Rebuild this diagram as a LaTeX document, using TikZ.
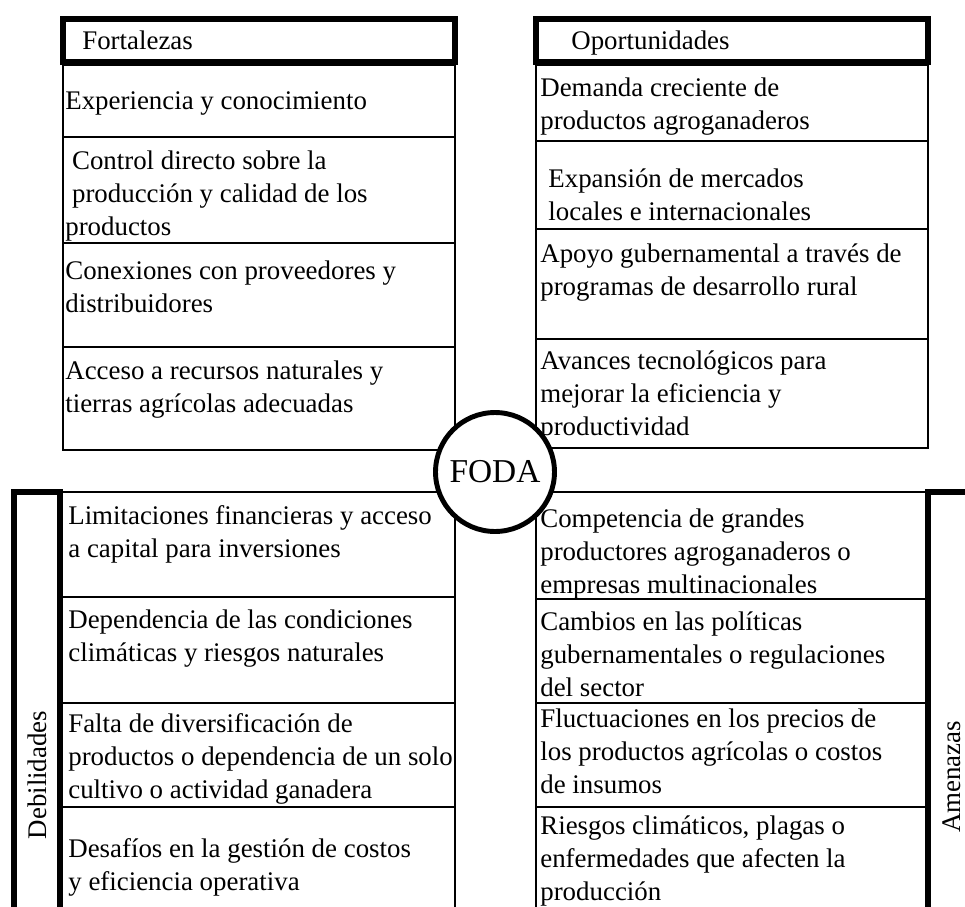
\documentclass[tikz,border=0pt]{standalone}
\usepackage{fontspec}
\setmainfont{Liberation Serif}

\begin{document}
\begin{tikzpicture}[x=0.02cm, y=-0.02cm,
  cell/.style={draw, line width=1.1pt},
  hdrbox/.style={draw, line width=3.4pt},
  txt/.style={anchor=north west, inner sep=0pt, align=left, font=\fontsize{15.3}{18.7}\selectfont},
  side/.style={rotate=90, inner sep=0pt, font=\fontsize{15.3}{18.7}\selectfont}]
\useasboundingbox (0,0) rectangle (965,907);
\clip (0,0) rectangle (965,907);

\draw[hdrbox] (63,19) rectangle (455,62);
\node[txt] (fort) at (82,26) {\strut Fortalezas};
\draw[cell] (63,65) rectangle (455,137);
\draw[cell] (63,137) rectangle (455,243);
\draw[cell] (63,243) rectangle (455,347);
\draw[cell] (63,347) rectangle (455,450);
\node[txt] (f1) at (65,86) {\strut Experiencia y conocimiento};
\node[txt] (f2) at (65,146) {\strut\hspace{.25em}Control directo sobre la\\\hspace{.25em}producción y calidad de los\\productos};
\node[txt] (f3) at (65,256) {\strut Conexiones con proveedores y\\distribuidores};
\node[txt] (f4) at (65,356) {\strut Acceso a recursos naturales y\\tierras agrícolas adecuadas};

\draw[hdrbox] (536,19) rectangle (928,62);
\node[txt] (opor) at (571,26) {\strut Oportunidades};
\draw[cell] (536,65) rectangle (928,141);
\draw[cell] (536,141) rectangle (928,229);
\draw[cell] (536,229) rectangle (928,339);
\draw[cell] (536,339) rectangle (928,448);
\node[txt] (o1) at (540,73) {\strut Demanda creciente de\\productos agroganaderos};
\node[txt] (o2) at (540,164) {\strut\hspace{.3em}Expansión de mercados\\\hspace{.3em}locales e internacionales};
\node[txt] (o3) at (540,239) {\strut Apoyo gubernamental a través de\\programas de desarrollo rural};
\node[txt] (o4) at (540,346) {\strut Avances tecnológicos para\\mejorar la eficiencia y\\productividad};

\draw[cell] (60,492) rectangle (455,597);
\draw[cell] (60,597) rectangle (455,703);
\draw[cell] (60,703) rectangle (455,807);
\draw[cell] (60,807) rectangle (455,930);
\draw[hdrbox] (14,492) rectangle (60,930);
\node[side] (deb) at (37,775) {Debilidades};
\node[txt] (d1) at (68,501) {\strut Limitaciones financieras y acceso\\a capital para inversiones};
\node[txt] (d2) at (68,605) {\strut Dependencia de las condiciones\\climáticas y riesgos naturales};
\node[txt] (d3) at (68,709) {\strut Falta de diversificación de\\productos o dependencia de un solo\\cultivo o actividad ganadera};
\node[txt] (d4) at (68,834) {\strut Desafíos en la gestión de costos\\y eficiencia operativa};

\draw[cell] (536,492) rectangle (928,599);
\draw[cell] (536,599) rectangle (928,703);
\draw[cell] (536,703) rectangle (928,807);
\draw[cell] (536,807) rectangle (928,930);
\draw[hdrbox] (928,492) rectangle (985,930);
\node[side] (amen) at (952,777) {Amenazas};
\node[txt] (a1) at (540,504) {\strut Competencia de grandes\\productores agroganaderos o\\empresas multinacionales};
\node[txt] (a2) at (540,607) {\strut Cambios en las políticas\\gubernamentales o regulaciones\\del sector};
\node[txt] (a3) at (540,704) {\strut Fluctuaciones en los precios de\\los productos agrícolas o costos\\de insumos};
\node[txt] (a4) at (540,811) {\strut Riesgos climáticos, plagas o\\enfermedades que afecten la\\producción};

\node[draw, circle, fill=white, line width=2.8pt, minimum size=2.38cm, inner sep=0pt,
  font=\fontsize{19}{22}\selectfont] (foda) at (495,472) {FODA};
\end{tikzpicture}
\end{document}
